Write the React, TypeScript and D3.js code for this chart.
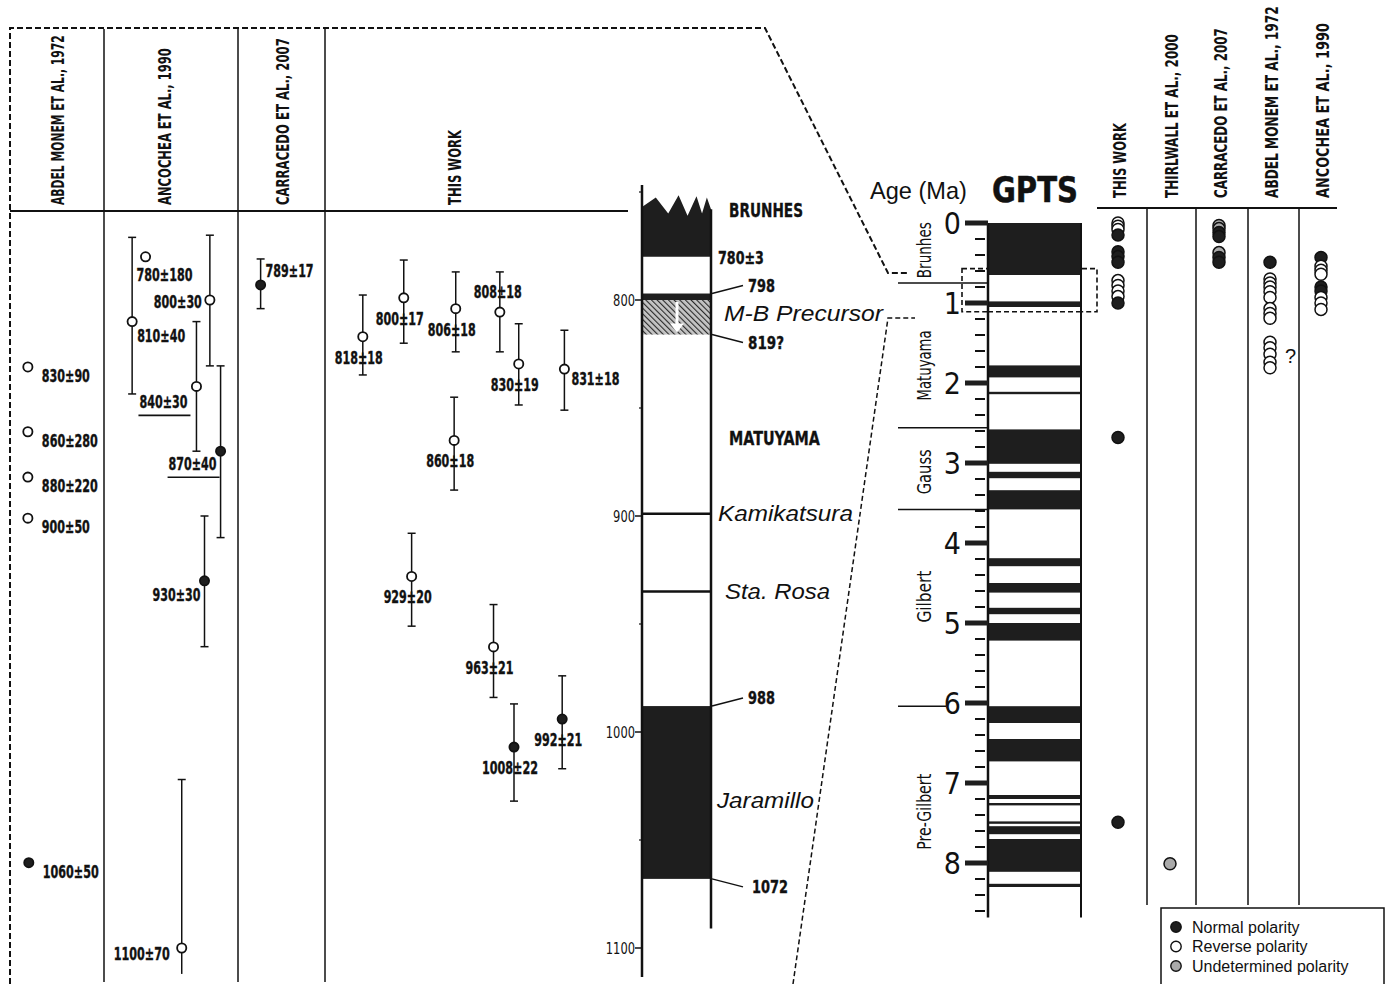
import * as d3 from "d3";
import React, { useLayoutEffect, useRef, useState } from "react";

const NARROW = "'Liberation Sans Narrow','Arial Narrow','DejaVu Sans Condensed',sans-serif";
const SANS = "'Liberation Sans',Arial,Helvetica,sans-serif";
const INK = "#111";
const DARK = "#1e1e1e";
const GREY = "#aaaaaa";

// ---------- left panel (ages in ka, as plotted) ----------
// pos = horizontal lane inside the column (0..1), lo/hi = error bar ends
const abdelMonem1972 = [
  { age: 831, label: "830±90", pol: "R", pos: 0.19 },
  { age: 861, label: "860±280", pol: "R", pos: 0.19 },
  { age: 882, label: "880±220", pol: "R", pos: 0.19 },
  { age: 901, label: "900±50", pol: "R", pos: 0.19 },
  { age: 1060.5, label: "1060±50", pol: "N", pos: 0.2 },
];

const ancochea1990 = [
  { age: 780, lo: null, hi: null, label: "780±180", pol: "R", pos: 0.31 },
  { age: 810, lo: 771, hi: 843.5, label: "810±40", pol: "R", pos: 0.21 },
  { age: 800, lo: 770, hi: 830.5, label: "800±30", pol: "R", pos: 0.79 },
  { age: 840, lo: 810, hi: 870, label: "840±30", pol: "R", pos: 0.69 },
  { age: 870, lo: 830.5, hi: 910, label: "870±40", pol: "N", pos: 0.87 },
  { age: 930, lo: 900, hi: 960.5, label: "930±30", pol: "N", pos: 0.75 },
  { age: 1100, lo: 1022, hi: 1112, label: "1100±70", pol: "R", pos: 0.58 },
];

const carracedo2007 = [
  { age: 793, lo: 781, hi: 804, label: "789±17", pol: "N", pos: 0.26 },
];

const thisWork = [
  { age: 817, lo: 797.7, hi: 834.7, label: "818±18", pol: "R", pos: 0.12 },
  { age: 799, lo: 781.5, hi: 820, label: "800±17", pol: "R", pos: 0.25 },
  { age: 804, lo: 787, hi: 824, label: "806±18", pol: "R", pos: 0.415 },
  { age: 805.6, lo: 787, hi: 824, label: "808±18", pol: "R", pos: 0.555 },
  { age: 829.6, lo: 811, hi: 848.6, label: "830±19", pol: "R", pos: 0.615 },
  { age: 832, lo: 814, hi: 851, label: "831±18", pol: "R", pos: 0.76 },
  { age: 865, lo: 845, hi: 888, label: "860±18", pol: "R", pos: 0.41 },
  { age: 928, lo: 908, hi: 951, label: "929±20", pol: "R", pos: 0.275 },
  { age: 960.6, lo: 941, hi: 984, label: "963±21", pol: "R", pos: 0.535 },
  { age: 1007, lo: 987, hi: 1032, label: "1008±22", pol: "N", pos: 0.6 },
  { age: 994, lo: 974, hi: 1017, label: "992±21", pol: "N", pos: 0.753 },
];

const underlined = ["840±30", "870±40"];

// ---------- detailed reference column (ka) ----------
const brunhesTop = [
  [0, 757], [0.2, 752.5], [0.38, 760], [0.53, 751.5], [0.66, 761],
  [0.79, 752], [0.87, 760], [0.94, 752.5], [1, 758],
];
const refNormal = [
  { from: 797, to: 800 },
  { from: 988, to: 1068 },
];
const refPrecursor = { from: 800, to: 816 };
const refEvents = [
  { name: "Kamikatsura", ka: 899 },
  { name: "Sta. Rosa", ka: 935 },
];
const refAges = [
  { label: "798", ka: 797 },
  { label: "819?", ka: 816 },
  { label: "988", ka: 988 },
  { label: "1072", ka: 1068 },
];
const kaTicks = [800, 900, 1000, 1100];
const kaMinor = [750, 850, 950, 1050];

// ---------- GPTS (Ma) ----------
const gptsNormal = [
  [0, 0.65], [0.98, 1.05], [1.78, 1.93], [2.11, 2.14], [2.58, 3.01], [3.11, 3.19],
  [3.34, 3.58], [4.19, 4.29], [4.5, 4.62], [4.81, 4.89], [5.0, 5.22], [6.04, 6.25],
  [6.45, 6.73], [7.15, 7.2], [7.25, 7.28], [7.48, 7.51], [7.54, 7.64], [7.7, 8.11],
  [8.26, 8.3],
];
const chrons = [
  { name: "Brunhes", mid: 0.34, len: 56 },
  { name: "Matuyama", mid: 1.78, len: 70 },
  { name: "Gauss", mid: 3.11, len: 45 },
  { name: "Gilbert", mid: 4.67, len: 52 },
  { name: "Pre-Gilbert", mid: 7.36, len: 76 },
];
const chronBounds = [0.75, 2.56, 3.58, 6.04];
const maTicks = [0, 1, 2, 3, 4, 5, 6, 7, 8];

// ---------- right panel summary dots (Ma) ----------
const sumThisWork = [
  { ma: 0.0, pol: "R" }, { ma: 0.04, pol: "R" }, { ma: 0.08, pol: "R" }, { ma: 0.15, pol: "N" },
  { ma: 0.36, pol: "N" }, { ma: 0.42, pol: "N" }, { ma: 0.49, pol: "N" },
  { ma: 0.72, pol: "R" }, { ma: 0.78, pol: "R" }, { ma: 0.85, pol: "R" }, { ma: 0.92, pol: "R" },
  { ma: 1.0, pol: "N" }, { ma: 2.68, pol: "N" }, { ma: 7.49, pol: "N" },
];
const sumThirlwall = [{ ma: 8.01, pol: "U" }];
const sumCarracedo = [
  { ma: 0.03, pol: "U" }, { ma: 0.07, pol: "U" }, { ma: 0.12, pol: "N" }, { ma: 0.17, pol: "N" },
  { ma: 0.37, pol: "U" }, { ma: 0.43, pol: "N" }, { ma: 0.49, pol: "N" },
];
const sumAbdel = [
  { ma: 0.49, pol: "N" }, { ma: 0.7, pol: "R" }, { ma: 0.75, pol: "R" }, { ma: 0.8, pol: "R" },
  { ma: 0.86, pol: "R" }, { ma: 0.93, pol: "R" }, { ma: 1.07, pol: "R" }, { ma: 1.13, pol: "R" },
  { ma: 1.19, pol: "R" }, { ma: 1.49, pol: "R" }, { ma: 1.56, pol: "R" }, { ma: 1.64, pol: "R" },
  { ma: 1.74, pol: "R" }, { ma: 1.81, pol: "R" },
];
const sumAncochea = [
  { ma: 0.43, pol: "N" }, { ma: 0.54, pol: "R" }, { ma: 0.59, pol: "R" }, { ma: 0.64, pol: "R" },
  { ma: 0.8, pol: "N" }, { ma: 0.85, pol: "N" }, { ma: 0.93, pol: "R" }, { ma: 1.0, pol: "R" },
  { ma: 1.08, pol: "R" },
];

const legendItems = [
  { pol: "N", text: "Normal polarity" },
  { pol: "R", text: "Reverse polarity" },
  { pol: "U", text: "Undetermined polarity" },
];

// label placement (layout only): [anchor, dx, dy]
const labelPlace = {
  "780±180": ["start", -9, 24],
  "810±40": ["start", 5, 20],
  "800±30": ["end", -8, 8],
  "840±30": ["end", -9, 22],
  "870±40": ["end", -4, 19],
  "930±30": ["end", -4, 20],
  "1100±70": ["end", -12, 12],
  "789±17": ["start", 5, -8],
  "808±18": ["middle", -2, -14],
  "831±18": ["start", 7, 16],
};

const yKa = d3.scaleLinear().domain([800, 1100]).range([300, 948]);
const yMa = d3.scaleLinear().domain([0, 8]).range([223, 863]);

const fillFor = (p) => (p === "N" ? DARK : p === "U" ? GREY : "#fff");

// text squeezed horizontally to a target width (in its own frame)
function FitText({ x, y, rotate = 0, len, size, family = NARROW, weight = "normal", italic = false, anchor = "start", dy, bold = 0, children }) {
  const ref = useRef(null);
  const [k, setK] = useState(1);
  useLayoutEffect(() => {
    if (!ref.current || !len) return;
    const w = ref.current.getComputedTextLength();
    if (w > 0) setK(len / w);
  }, [len, children]);
  return (
    <text
      ref={ref}
      transform={`translate(${x},${y}) rotate(${rotate}) scale(${k},1)`}
      dy={dy}
      textAnchor={anchor}
      fontFamily={family}
      fontSize={size}
      fontWeight={weight}
      fontStyle={italic ? "italic" : "normal"}
      fill={INK}
      stroke={bold ? INK : "none"}
      strokeWidth={bold}
    >
      {children}
    </text>
  );
}

function VText({ x, y, text, len, size = 18, weight = "bold", anchor = "start" }) {
  return (
    <FitText x={x} y={y} rotate={-90} len={len} size={size} weight={weight} anchor={anchor} dy="0.35em">
      {text}
    </FitText>
  );
}

function Num({ x, y, text, anchor = "start", per = 8, size = 17, dy = undefined }) {
  return (
    <FitText x={x} y={y} len={text.length * per} size={size} weight="bold" anchor={anchor} dy={dy} bold={0.35}>
      {text}
    </FitText>
  );
}

function AgeColumn({ data, x0, x1, defaultPlace }) {
  const x = d3.scaleLinear().domain([0, 1]).range([x0, x1]);
  return (
    <g>
      {data.map((d, i) => {
        const cx = x(d.pos);
        const cy = yKa(d.age);
        const [anchor, dx, dy] = labelPlace[d.label] || defaultPlace;
        const tx = cx + dx;
        const ty = cy + dy;
        return (
          <g key={i}>
            {d.lo != null && (
              <g stroke={INK} strokeWidth={1.5}>
                <line x1={cx} x2={cx} y1={yKa(d.lo)} y2={yKa(d.hi)} />
                <line x1={cx - 4} x2={cx + 4} y1={yKa(d.lo)} y2={yKa(d.lo)} />
                {d.hi < 1105 && <line x1={cx - 4} x2={cx + 4} y1={yKa(d.hi)} y2={yKa(d.hi)} />}
              </g>
            )}
            <Num x={tx} y={ty} text={d.label} anchor={anchor} />
            {underlined.includes(d.label) && (
              <line x1={tx - d.label.length * 8 - 1} x2={tx + 3} y1={ty + 7} y2={ty + 7} stroke={INK} strokeWidth={1.6} />
            )}
            <circle cx={cx} cy={cy} r={4.6} fill={fillFor(d.pol)} stroke={INK} strokeWidth={1.8} />
          </g>
        );
      })}
    </g>
  );
}

function DotStack({ data, cx }) {
  return (
    <g>
      {data.map((d, i) => (
        <circle key={i} cx={cx} cy={yMa(d.ma)} r={6} fill={fillFor(d.pol)} stroke={INK} strokeWidth={1.5} />
      ))}
    </g>
  );
}

export default function App() {
  // reference column geometry
  const cL = 642, cR = 711;
  const cx = d3.scaleLinear().domain([0, 1]).range([cL, cR]);
  const topPath =
    d3.line()(brunhesTop.map(([f, k]) => [cx(f), yKa(k)])) +
    `L${cR},${yKa(780)}L${cL},${yKa(780)}Z`;

  // GPTS geometry
  const gA = 988, gR = 1081;
  const minorMa = d3.range(0, 8.61, 0.2).filter((v) => Math.abs(v - Math.round(v)) > 0.05);

  const leftCols = [
    { x0: 10, x1: 104, hx: 58, header: "ABDEL MONEM ET AL., 1972", len: 170 },
    { x0: 104, x1: 238, hx: 165, header: "ANCOCHEA ET AL., 1990", len: 157 },
    { x0: 238, x1: 325, hx: 283, header: "CARRACEDO  ET AL., 2007", len: 167 },
    { x0: 325, x1: 640, hx: 455, header: "THIS WORK", len: 75 },
  ];

  const rightCols = [
    { hx: 1120, header: "THIS WORK", len: 75, data: sumThisWork },
    { hx: 1172, header: "THIRLWALL ET AL., 2000", len: 164, data: sumThirlwall },
    { hx: 1221, header: "CARRACEDO ET AL., 2007", len: 170, data: sumCarracedo },
    { hx: 1272, header: "ABDEL MONEM ET AL., 1972", len: 192, data: sumAbdel },
    { hx: 1323, header: "ANCOCHEA ET AL., 1990", len: 175, data: sumAncochea },
  ];
  const rightDividers = [1147, 1196, 1248, 1299];

  return (
    <svg
      width={1387}
      height={984}
      style={{ position: "absolute", left: 0, top: 0, background: "#fff" }}
    >
      <defs>
        <pattern id="hatch" width={4} height={4} patternUnits="userSpaceOnUse" patternTransform="rotate(-45)">
          <rect width={4} height={4} fill="#c4c4c4" />
          <line x1={0} y1={0} x2={0} y2={4} stroke="#2a2a2a" strokeWidth={2.2} />
        </pattern>
      </defs>
      <rect width={1387} height={984} fill="#fff" />

      {/* dashed outline and connectors */}
      <g fill="none" stroke={INK} strokeWidth={2} strokeDasharray="6,3">
        <polyline points="10,984 10,28 765,28 888,273 908,273" />
      </g>
      <g fill="none" stroke={INK} strokeWidth={1.5} strokeDasharray="5,3">
        <polyline points="793,984 888,318 915,318" />
      </g>

      {/* left panel frame */}
      <line x1={10} x2={628} y1={211} y2={211} stroke={INK} strokeWidth={2} />
      {leftCols.slice(1).map((c) => (
        <line key={c.x0} x1={c.x0} x2={c.x0} y1={29} y2={982} stroke={INK} strokeWidth={1.5} />
      ))}
      {leftCols.map((c) => (
        <VText key={c.header} x={c.hx} y={205} text={c.header} len={c.len} />
      ))}

      <AgeColumn data={abdelMonem1972} x0={10} x1={104} defaultPlace={["start", 14, 15]} />
      <AgeColumn data={ancochea1990} x0={104} x1={238} defaultPlace={["start", 8, 16]} />
      <AgeColumn data={carracedo2007} x0={238} x1={325} defaultPlace={["start", 8, -8]} />
      <AgeColumn data={thisWork} x0={325} x1={640} defaultPlace={["middle", -4, 27]} />

      {/* detailed reference column */}
      <g>
        <path d={topPath} fill={DARK} />
        {refNormal.map((b, i) => (
          <rect key={i} x={cL} y={yKa(b.from)} width={cR - cL} height={yKa(b.to) - yKa(b.from)} fill={DARK} />
        ))}
        <rect
          x={cL}
          y={yKa(refPrecursor.from)}
          width={cR - cL}
          height={yKa(refPrecursor.to) - yKa(refPrecursor.from)}
          fill="url(#hatch)"
        />
        <line x1={677} x2={677} y1={yKa(800) + 2} y2={yKa(815) - 7} stroke="#fff" strokeWidth={3} />
        <path d={`M670,${yKa(815) - 9}L684,${yKa(815) - 9}L677,${yKa(815)}Z`} fill="#fff" />
        {refEvents.map((e) => (
          <line key={e.name} x1={cL} x2={cR} y1={yKa(e.ka)} y2={yKa(e.ka)} stroke={INK} strokeWidth={2.5} />
        ))}
        <line x1={cL} x2={cL} y1={185} y2={977} stroke={INK} strokeWidth={2.5} />
        <line x1={cR} x2={cR} y1={yKa(758)} y2={yKa(1091)} stroke={INK} strokeWidth={2.5} />
        {kaTicks.map((t) => (
          <g key={t}>
            <line x1={cL - 7} x2={cL} y1={yKa(t)} y2={yKa(t)} stroke={INK} strokeWidth={1.5} />
            <FitText x={cL - 7} y={yKa(t)} dy="0.35em" anchor="end" size={16} len={String(t).length * 7.3}>
              {String(t)}
            </FitText>
          </g>
        ))}
        {kaMinor.map((t) => (
          <line key={t} x1={cL - 3} x2={cL} y1={yKa(t)} y2={yKa(t)} stroke={INK} strokeWidth={1.2} />
        ))}

        <FitText x={729} y={217} weight="bold" size={19} len={74} bold={0.3}>
          BRUNHES
        </FitText>
        <Num x={718} y={yKa(780) + 7} text="780±3" per={9.2} size={18} />
        {refAges.map((a) => {
          const y0 = yKa(a.ka);
          const y1 = a.ka < 800 || a.ka === 988 ? y0 - 8 : y0 + 8;
          return (
            <g key={a.label}>
              <line x1={cR + 1} x2={743} y1={y0} y2={y1} stroke={INK} strokeWidth={1.5} />
              <Num x={a.ka > 1000 ? 752 : 748} y={y1} dy="0.35em" text={a.label} per={9} size={18} />
            </g>
          );
        })}
        <FitText x={724} y={321} family={SANS} italic size={22} len={159}>
          M-B Precursor
        </FitText>
        <FitText x={729} y={445} weight="bold" size={19} len={91} bold={0.3}>
          MATUYAMA
        </FitText>
        {refEvents.map((e, i) => (
          <FitText
            key={e.name}
            x={i === 0 ? 718 : 725}
            y={yKa(e.ka) + 7}
            family={SANS}
            italic
            size={22}
            len={i === 0 ? 135 : 105}
          >
            {e.name}
          </FitText>
        ))}
        <FitText x={717} y={808} family={SANS} italic size={22} len={97}>
          Jaramillo
        </FitText>
      </g>

      {/* GPTS */}
      <g>
        <FitText x={870} y={199} family={SANS} size={24} len={97}>
          Age (Ma)
        </FitText>
        <FitText x={992} y={202} weight="bold" size={36} len={86} bold={0.5}>
          GPTS
        </FitText>
        <rect x={962} y={yMa(0.57)} width={135} height={yMa(1.11) - yMa(0.57)} fill="none" stroke={INK} strokeWidth={1.6} strokeDasharray="5,3" />
        <rect x={gA} y={yMa(0)} width={gR - gA} height={yMa(8.68) - yMa(0)} fill="#fff" />
        {gptsNormal.map(([a, b], i) => (
          <rect key={i} x={gA} y={yMa(a)} width={gR - gA} height={Math.max(2, yMa(b) - yMa(a))} fill={DARK} />
        ))}
        <line x1={gA} x2={gR} y1={yMa(1.11)} y2={yMa(1.11)} stroke={INK} strokeWidth={1.6} strokeDasharray="5,3" />
        <line x1={gA} x2={gA} y1={yMa(0)} y2={yMa(8.68)} stroke={INK} strokeWidth={2.5} />
        <line x1={gR} x2={gR} y1={yMa(0)} y2={yMa(8.68)} stroke={INK} strokeWidth={2} />
        {maTicks.map((t) => (
          <g key={t}>
            <rect x={965} y={yMa(t) - 2.5} width={gA - 965} height={5} fill={DARK} />
            <text x={961} y={yMa(t)} dy="0.36em" textAnchor="end" fontFamily={NARROW} fontSize={30} fill={INK}>
              {t}
            </text>
          </g>
        ))}
        {minorMa.map((t) => (
          <line key={t} x1={975} x2={985} y1={yMa(t)} y2={yMa(t)} stroke={INK} strokeWidth={2} />
        ))}
        {chronBounds.map((b) => (
          <line key={b} x1={898} x2={b > 6 ? 946 : gA} y1={yMa(b)} y2={yMa(b)} stroke={INK} strokeWidth={1.5} />
        ))}
        {chrons.map((c) => (
          <VText key={c.name} x={924} y={yMa(c.mid)} text={c.name} len={c.len} anchor="middle" size={20} weight="normal" />
        ))}
      </g>

      {/* right summary panel */}
      <g>
        <line x1={1097} x2={1337} y1={208} y2={208} stroke={INK} strokeWidth={2} />
        {rightDividers.map((x) => (
          <line key={x} x1={x} x2={x} y1={208} y2={905} stroke={INK} strokeWidth={1.5} />
        ))}
        {rightCols.map((c) => (
          <g key={c.header}>
            <VText x={c.hx} y={198} text={c.header} len={c.len} />
            <DotStack data={c.data} cx={c.hx - 2} />
          </g>
        ))}
        <text x={1285} y={yMa(1.66)} dy="0.35em" fontFamily={SANS} fontSize={20} fill={INK}>
          ?
        </text>
      </g>

      {/* legend */}
      <g>
        <rect x={1161} y={908} width={223} height={82} fill="#fff" stroke={INK} strokeWidth={1.5} />
        {legendItems.map((d, i) => (
          <g key={d.pol} transform={`translate(1176,${927 + i * 19.5})`}>
            <circle r={5.2} fill={fillFor(d.pol)} stroke={INK} strokeWidth={1.4} />
            <text x={16} dy="0.36em" fontFamily={SANS} fontSize={16} fill={INK}>
              {d.text}
            </text>
          </g>
        ))}
      </g>
    </svg>
  );
}
